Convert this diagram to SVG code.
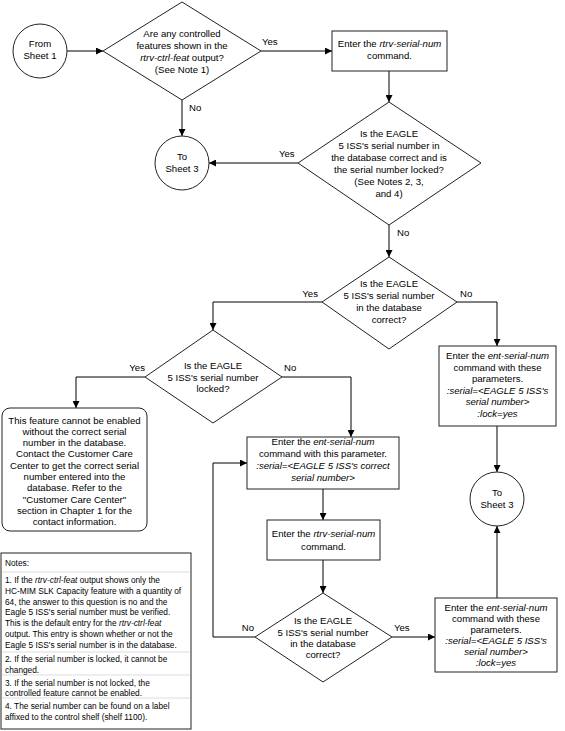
<svg xmlns="http://www.w3.org/2000/svg" width="565" height="731" viewBox="0 0 565 731">
<style>
text{font-family:"Liberation Sans",Arial,sans-serif;font-size:9.6px;fill:#000}
.c{text-anchor:middle}
.n{font-size:8.3px}
.i{font-style:italic}
.s{fill:#fff;stroke:#222;stroke-width:1}
.l{fill:none;stroke:#000;stroke-width:1;marker-end:url(#a)}
.p{fill:none;stroke:#000;stroke-width:1}
.sep{stroke:#c8c8c8;stroke-width:0.6}
</style>
<defs>
<marker id="a" viewBox="0 0 10 10" refX="10" refY="5" markerWidth="7" markerHeight="7" markerUnits="userSpaceOnUse" orient="auto">
<path d="M0,0 L10,5 L0,10 z" fill="#000"/>
</marker>
</defs>
<rect width="565" height="731" fill="#fff"/>

<g id="connectors">
<line class="l" x1="67" y1="51" x2="103" y2="51"/>
<line class="l" x1="261" y1="51" x2="332" y2="51"/>
<line class="l" x1="182" y1="100" x2="182" y2="136"/>
<line class="l" x1="389" y1="71" x2="389" y2="102"/>
<line class="l" x1="298" y1="163" x2="209" y2="163"/>
<line class="l" x1="389" y1="225" x2="389" y2="257"/>
<polyline class="l" points="322,302 213,302 213,330"/>
<polyline class="l" points="457,302 497,302 497,346"/>
<line class="l" x1="497" y1="426" x2="497" y2="472"/>
<line class="l" x1="497" y1="598" x2="497" y2="526"/>
<polyline class="l" points="145,377 76,377 76,408"/>
<polyline class="l" points="282,377 351,377 351,437"/>
<line class="l" x1="323" y1="489" x2="323" y2="520"/>
<line class="l" x1="323" y1="560" x2="323" y2="593"/>
<polyline class="l" points="255,637 213,637 213,463 247,463"/>
<line class="l" x1="392" y1="637" x2="435" y2="637"/>
<text x="262" y="45">Yes</text>
<text x="189" y="111">No</text>
<text x="279" y="157">Yes</text>
<text x="397" y="236">No</text>
<text x="318" y="297" text-anchor="end">Yes</text>
<text x="460" y="297">No</text>
<text x="145" y="371" text-anchor="end">Yes</text>
<text x="284" y="371">No</text>
<text x="254" y="631" text-anchor="end">No</text>
<text x="394" y="631">Yes</text>
</g>

<g id="from-sheet1">
<circle class="s" cx="40" cy="51" r="27"/>
<text class="c" x="40" y="47">From</text>
<text class="c" x="40" y="59">Sheet 1</text>
</g>

<g id="dec-controlled">
<polygon class="s" points="182,2 261,51 182,100 103,51"/>
<text class="c" x="182" y="37">Are any controlled</text>
<text class="c" x="182" y="49">features shown in the</text>
<text class="c" x="182" y="61"><tspan class="i">rtrv-ctrl-feat</tspan> output?</text>
<text class="c" x="182" y="73">(See Note 1)</text>
</g>

<g id="to-sheet3-a">
<circle class="s" cx="182" cy="163" r="27"/>
<text class="c" x="182" y="160">To</text>
<text class="c" x="182" y="172">Sheet 3</text>
</g>

<g id="rtrv-serial-1">
<rect class="s" x="332" y="31" width="115" height="40"/>
<text class="c" x="389.5" y="47">Enter the <tspan class="i">rtrv-serial-num</tspan></text>
<text class="c" x="389.5" y="59">command.</text>
</g>

<g id="dec-correct-locked">
<polygon class="s" points="389,102 481,163 389,225 298,163"/>
<text class="c" x="389" y="137">Is the EAGLE</text>
<text class="c" x="389" y="149">5 ISS's serial number in</text>
<text class="c" x="389" y="161">the database correct and is</text>
<text class="c" x="389" y="173">the serial number locked?</text>
<text class="c" x="389" y="185">(See Notes 2, 3,</text>
<text class="c" x="389" y="197">and 4)</text>
</g>

<g id="dec-correct">
<polygon class="s" points="389,257 457,302 389,349 322,302"/>
<text class="c" x="389" y="287">Is the EAGLE</text>
<text class="c" x="389" y="299">5 ISS's serial number</text>
<text class="c" x="389" y="311">in the database</text>
<text class="c" x="389" y="323">correct?</text>
</g>

<g id="ent-serial-lock-1">
<rect class="s" x="439" y="346" width="117" height="80"/>
<text class="c" x="497.5" y="359">Enter the <tspan class="i">ent-serial-num</tspan></text>
<text class="c" x="497.5" y="370.5">command with these</text>
<text class="c" x="497.5" y="382">parameters.</text>
<text class="c i" x="497.5" y="393.5">:serial=&lt;EAGLE 5 ISS's</text>
<text class="c i" x="497.5" y="405">serial number&gt;</text>
<text class="c i" x="497.5" y="416.5">:lock=yes</text>
</g>

<g id="to-sheet3-b">
<circle class="s" cx="497" cy="499" r="27"/>
<text class="c" x="497" y="496">To</text>
<text class="c" x="497" y="508">Sheet 3</text>
</g>

<g id="dec-locked">
<polygon class="s" points="213,330 282,377 213,423 145,377"/>
<text class="c" x="213" y="369">Is the EAGLE</text>
<text class="c" x="213" y="380.5">5 ISS's serial number</text>
<text class="c" x="213" y="392">locked?</text>
</g>

<g id="cannot-enable">
<rect class="s" x="2" y="408" width="145" height="123" rx="8" ry="8"/>
<text class="c" x="74.5" y="423.5">This feature cannot be enabled</text>
<text class="c" x="74.5" y="434.8">without the correct serial</text>
<text class="c" x="74.5" y="446.1">number in the database.</text>
<text class="c" x="74.5" y="457.4">Contact the Customer Care</text>
<text class="c" x="74.5" y="468.7">Center to get the correct serial</text>
<text class="c" x="74.5" y="480">number entered into the</text>
<text class="c" x="74.5" y="491.3">database. Refer to the</text>
<text class="c" x="74.5" y="502.6">"Customer Care Center"</text>
<text class="c" x="74.5" y="513.9">section in Chapter 1 for the</text>
<text class="c" x="74.5" y="525.2">contact information.</text>
</g>

<g id="ent-serial-correct">
<rect class="s" x="247" y="437" width="152" height="52"/>
<text class="c" x="323" y="445">Enter the <tspan class="i">ent-serial-num</tspan></text>
<text class="c" x="323" y="457">command with this parameter.</text>
<text class="c i" x="323" y="469">:serial=&lt;EAGLE 5 ISS's correct</text>
<text class="c i" x="323" y="481">serial number&gt;</text>
</g>

<g id="rtrv-serial-2">
<rect class="s" x="267" y="520" width="113" height="40"/>
<text class="c" x="323.5" y="537">Enter the <tspan class="i">rtrv-serial-num</tspan></text>
<text class="c" x="323.5" y="549.5">command.</text>
</g>

<g id="dec-correct-2">
<polygon class="s" points="323,593 392,637 323,682 255,637"/>
<text class="c" x="323" y="624">Is the EAGLE</text>
<text class="c" x="323" y="636">5 ISS's serial number</text>
<text class="c" x="323" y="647">in the database</text>
<text class="c" x="323" y="658">correct?</text>
</g>

<g id="ent-serial-lock-2">
<rect class="s" x="435" y="598" width="122" height="74"/>
<text class="c" x="496" y="611">Enter the <tspan class="i">ent-serial-num</tspan></text>
<text class="c" x="496" y="622">command with these</text>
<text class="c" x="496" y="633">parameters.</text>
<text class="c i" x="496" y="644">:serial=&lt;EAGLE 5 ISS's</text>
<text class="c i" x="496" y="655">serial number&gt;</text>
<text class="c i" x="496" y="666">:lock=yes</text>
</g>

<g id="notes">
<rect class="s" x="1" y="553" width="190" height="176"/>
<line class="sep" x1="2" y1="572" x2="190" y2="572"/>
<line class="sep" x1="2" y1="652" x2="190" y2="652"/>
<line class="sep" x1="2" y1="675" x2="190" y2="675"/>
<line class="sep" x1="2" y1="698" x2="190" y2="698"/>
<text class="n" x="5" y="566">Notes:</text>
<text class="n" x="5" y="583">1. If the <tspan class="i">rtrv-ctrl-feat</tspan> output shows only the</text>
<text class="n" x="5" y="593.8">HC-MIM SLK Capacity feature with a quantity of</text>
<text class="n" x="5" y="604.6">64, the answer to this question is no and the</text>
<text class="n" x="5" y="615.4">Eagle 5 ISS's serial number must be verified.</text>
<text class="n" x="5" y="626.2">This is the default entry for the <tspan class="i">rtrv-ctrl-feat</tspan></text>
<text class="n" x="5" y="637">output.  This entry is shown whether or not the</text>
<text class="n" x="5" y="647.8">Eagle 5 ISS's serial number is in the database.</text>
<text class="n" x="5" y="662">2. If the serial number is locked, it cannot be</text>
<text class="n" x="5" y="672.5">changed.</text>
<text class="n" x="5" y="685.5">3. If the serial number is not locked, the</text>
<text class="n" x="5" y="696">controlled feature cannot be enabled.</text>
<text class="n" x="5" y="709">4. The serial number can be found on a label</text>
<text class="n" x="5" y="719.5">affixed to the control shelf (shelf 1100).</text>
</g>
</svg>
